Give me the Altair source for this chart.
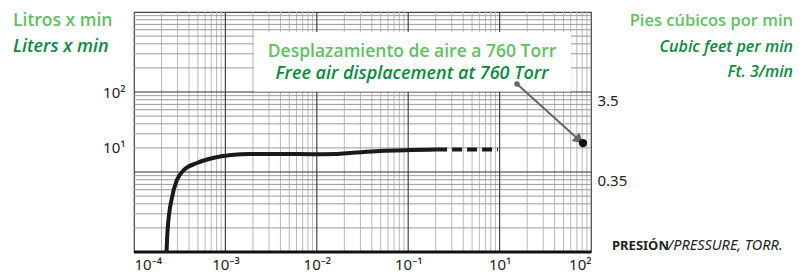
import json
import altair as alt
import pandas as pd

# ---- data (x in plotted position, y in L/min) ----
curve_x = [2.27e-4, 2.33e-4, 2.61e-4, 2.95e-4, 3.52e-4, 4.89e-4, 7.31e-4, 1.15e-3,
           1.86e-3, 3.95e-3, 9.08e-3, 1.58e-2, 2.49e-2, 4.91e-2, 0.113, 0.207]
curve_y = [1.0, 1.88, 4.87, 7.94, 10.6, 12.96, 14.96, 16.3,
           16.8, 16.8, 16.7, 16.8, 17.4, 18.3, 18.8, 19.1]
dash_x = [0.207, 0.96]
dash_y = [19.1, 19.1]
point_x = [8.17]
point_y = [23.0]
arrow_x = [1.55, 7.2]
arrow_y = [126.0, 25.9]

x_ticks = [1e-4, 1e-3, 1e-2, 1e-1, 1, 10]
x_labels = ["10\u207b\u2074", "10\u207b\u00b3", "10\u207b\u00b2", "10\u207b\u00b9", "10\u00b9", "10\u00b2"]
yl_ticks = [100, 20.5]
yl_labels = ["10\u00b2", "10\u00b9"]
yr_ticks = [79.4, 7.72]
yr_labels = ["3.5", "0.35"]

x_decades = [1e-4, 1e-3, 1e-2, 1e-1, 1, 10]
y_decades = [1, 10, 100, 1000]
minor_mult = [2, 3, 4, 5, 6, 7, 8, 9]

XDOM = [1e-4, 10]
YDOM = [1, 1000]

def lbl_expr(vals, labels):
    return "%s[indexof(%s, datum.value)]" % (json.dumps(labels, ensure_ascii=False), json.dumps(vals))

xs = alt.Scale(type="log", domain=XDOM, nice=False)
ys = alt.Scale(type="log", domain=YDOM, nice=False)

GREEN_L = "#62c062"
GREEN_D = "#0b8a40"
FONT = "Open Sans"
TICKFONT = "Noto Sans"

base_axis = dict(domain=False, ticks=False, grid=False, labelFont=TICKFONT,
                 labelFontSize=15, labelColor="#222222", title=None)
XAXIS = alt.Axis(values=x_ticks, labelExpr=lbl_expr(x_ticks, x_labels),
                 labelPadding=5, orient="bottom", **base_axis)

def X(field="x"):
    return alt.X(field + ":Q", scale=xs, axis=XAXIS)

vminor = pd.DataFrame({"x": [d * m for d in x_decades[:-1] for m in minor_mult]})
vmajor = pd.DataFrame({"x": x_decades[1:-1]})
hminor = pd.DataFrame({"y": [d * m for d in y_decades[:-1] for m in minor_mult]})
hmajor = pd.DataFrame({"y": y_decades[1:-1]})

g_vminor = alt.Chart(vminor).mark_rule(color="#b9b9b9", strokeWidth=1).encode(x=X())
g_hminor = alt.Chart(hminor).mark_rule(color="#9a9a9a", strokeWidth=1).encode(
    y=alt.Y("y:Q", scale=ys, axis=None))
g_vmajor = alt.Chart(vmajor).mark_rule(color="#444444", strokeWidth=1.2).encode(x=X())
g_hmajor = alt.Chart(hmajor).mark_rule(color="#333333", strokeWidth=1.2).encode(
    y=alt.Y("y:Q", scale=ys, axis=None))

bottom = alt.Chart(pd.DataFrame({"y": [YDOM[0]]})).mark_rule(color="#111111", strokeWidth=3).encode(
    y=alt.Y("y:Q", scale=ys, axis=None))

box = alt.Chart(pd.DataFrame({"a": [0]})).mark_rect(color="white").encode(
    x=alt.value(120), x2=alt.value(437), y=alt.value(20), y2=alt.value(79.5))

curve_df = pd.DataFrame({"x": curve_x, "y": curve_y})
curve = alt.Chart(curve_df).mark_line(color="#1a1a1a", strokeWidth=4, interpolate="monotone",
                                      clip=True).encode(
    x=X(),
    y=alt.Y("y:Q", scale=ys,
            axis=alt.Axis(values=yl_ticks, labelExpr=lbl_expr(yl_ticks, yl_labels),
                          labelPadding=9, orient="left", **base_axis)),
    order=alt.Order("x:Q"))

dash = alt.Chart(pd.DataFrame({"x": dash_x, "y": dash_y})).mark_line(
    color="#1a1a1a", strokeWidth=4, strokeDash=[10, 5]).encode(
    x=X(),
    y=alt.Y("y:Q", scale=ys,
            axis=alt.Axis(values=yr_ticks, labelExpr=lbl_expr(yr_ticks, yr_labels),
                          labelPadding=6, orient="right", **base_axis)))

arrow_df = pd.DataFrame({"x": arrow_x, "y": arrow_y, "o": [0, 1]})
arrow = alt.Chart(arrow_df).mark_line(color="#666666", strokeWidth=2).encode(
    x=X(), y=alt.Y("y:Q", scale=ys, axis=None), order="o:Q")
arrow_start = alt.Chart(arrow_df.iloc[[0]]).mark_point(filled=True, color="#666666", size=30, opacity=1).encode(
    x=X(), y=alt.Y("y:Q", scale=ys, axis=None))
arrow_head = alt.Chart(arrow_df.iloc[[1]]).mark_point(shape="triangle", filled=True, color="#666666",
                                                      size=130, angle=132, opacity=1).encode(
    x=X(), y=alt.Y("y:Q", scale=ys, axis=None))
point = alt.Chart(pd.DataFrame({"x": point_x, "y": point_y})).mark_point(
    filled=True, color="#111111", size=70, opacity=1).encode(
    x=X(), y=alt.Y("y:Q", scale=ys, axis=None))

def txt(s, x, y, color, size, weight="normal", style="normal", align="left", font=FONT):
    return alt.Chart(pd.DataFrame({"t": [s]})).mark_text(
        align=align, baseline="middle", color=color, fontSize=size, fontWeight=weight,
        fontStyle=style, font=font).encode(text="t:N", x=alt.value(x), y=alt.value(y))

texts = [
    txt("Litros x min", -121, 9, GREEN_L, 17.5, weight=600),
    txt("Liters x min", -121, 35, GREEN_D, 18, weight=600, style="italic"),
    txt("Pies cúbicos por min", 659, 9, GREEN_L, 16.5, weight=600, align="right"),
    txt("Cubic feet per min", 659, 35, GREEN_D, 16, weight=600, style="italic", align="right"),
    txt("Ft. 3/min", 659, 60, GREEN_D, 16, weight=600, style="italic", align="right"),
    txt("Desplazamiento de aire a 760 Torr", 278, 40, GREEN_L, 17.5, weight=600, align="center"),
    txt("Free air displacement at 760 Torr", 278, 62, GREEN_D, 18, weight=600, style="italic", align="center"),
    txt("PRESIÓN", 478, 234, "#222222", 13, weight="bold", font=TICKFONT),
    txt("/PRESSURE, TORR.", 534, 234, "#222222", 14.5, style="italic", font=TICKFONT),
]

chart = alt.layer(
    g_vminor, g_hminor, g_vmajor, g_hmajor, box, bottom, curve, dash,
    arrow, arrow_start, arrow_head, point, *texts
).resolve_axis(y="independent").properties(
    width=457, height=240,
    autosize=alt.AutoSizeParams(type="none"),
    padding={"left": 126, "top": 4, "right": 210, "bottom": 24},
).configure_view(stroke="#444444", strokeWidth=1.2)

chart.save("out.html", embed_options={"renderer": "svg", "actions": False})
